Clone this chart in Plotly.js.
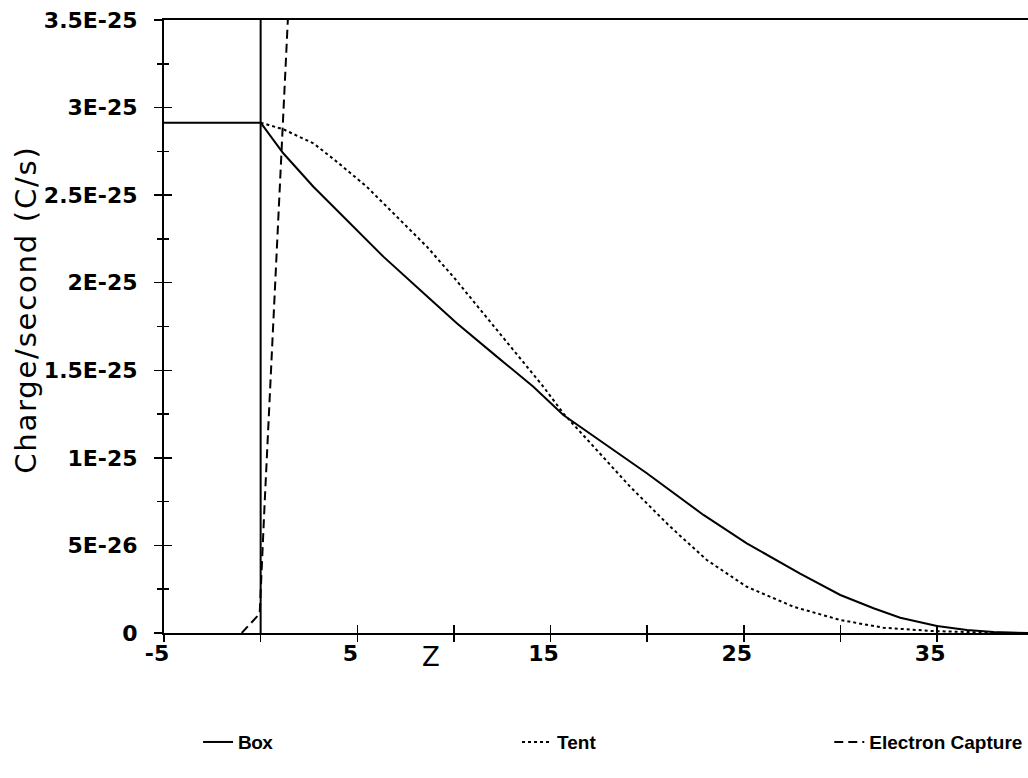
<!DOCTYPE html>
<html>
<head>
<meta charset="utf-8">
<script src="https://cdn.plot.ly/plotly-3.0.1.min.js"></script>
<style>
html,body{margin:0;padding:0;background:#fff;}
#chart{width:1028px;height:778px;}
.annotation[data-index="1"] text{letter-spacing:1.8px;}
.legendtext{letter-spacing:-0.5px;}
</style>
</head>
<body>
<div id="chart"></div>
<script>
// ---- data (y values in C/s) ----
const boxX = [-5, 0, 0, 0, null, 0, 1.17, 2.73, 4.63, 6.35, 8.25, 10.15, 12.22, 14.11, 15.66, 17.73, 19.98, 22.91, 25.15, 27.91, 29.99, 31.71, 33.09, 34.99, 36.54, 37.92, 39.7];
const boxY = [2.914e-25, 2.914e-25, 0, 3.6e-25, null, 2.914e-25, 2.739e-25, 2.548e-25, 2.339e-25, 2.149e-25, 1.958e-25, 1.768e-25, 1.578e-25, 1.406e-25, 1.245e-25, 1.083e-25, 0.912e-25, 0.674e-25, 0.512e-25, 0.339e-25, 0.217e-25, 0.141e-25, 0.087e-25, 0.040e-25, 0.017e-25, 0.006e-25, 0];

const tentX = [0, 1.17, 2.73, 3.94, 5.49, 7.04, 8.60, 9.97, 11.52, 13.25, 14.63, 15.66, 17.22, 19.12, 21.19, 23.08, 25.15, 27.57, 29.99, 32.22, 34.81, 36.54, 38.5, 39.7];
const tentY = [2.914e-25, 2.876e-25, 2.796e-25, 2.691e-25, 2.548e-25, 2.377e-25, 2.206e-25, 2.034e-25, 1.825e-25, 1.597e-25, 1.406e-25, 1.254e-25, 1.064e-25, 0.835e-25, 0.607e-25, 0.417e-25, 0.264e-25, 0.150e-25, 0.074e-25, 0.030e-25, 0.011e-25, 0.004e-25, 0, 0];

const ecX = [-0.98, -0.05, 0.2, 0.45, 0.7, 0.95, 1.2, 1.45];
const ecY = [0, 0.11e-25, 0.725e-25, 1.299e-25, 1.873e-25, 2.461e-25, 3.032e-25, 3.6e-25];

const seriesNames = ['Box', 'Tent', 'Electron Capture'];

const xTickVals = [-5, 0, 5, 10, 15, 20, 25, 30, 35];
const xTickText = ['-5', '', '5', '', '15', '', '25', '', '35'];
const yTickVals = [0, 0.5e-25, 1e-25, 1.5e-25, 2e-25, 2.5e-25, 3e-25, 3.5e-25];
const yTickText = ['0', '5E-26', '1E-25', '1.5E-25', '2E-25', '2.5E-25', '3E-25', '3.5E-25'];
const yMinorVals = [0.25e-25, 0.75e-25, 1.25e-25, 1.75e-25, 2.25e-25, 2.75e-25, 3.25e-25];

const xTitle = 'Z';
const yTitle = 'Charge/second (C/s)';

// ---- traces ----
const traces = [
  {x: boxX, y: boxY, name: seriesNames[0], type: 'scatter', mode: 'lines', legend: 'legend',
   line: {color: '#000', width: 2, dash: 'solid'}, connectgaps: false},
  {x: tentX, y: tentY, name: seriesNames[1], type: 'scatter', mode: 'lines', legend: 'legend2',
   line: {color: '#000', width: 2, dash: 'dot'}},
  {x: ecX, y: ecY, name: seriesNames[2], type: 'scatter', mode: 'lines', legend: 'legend3',
   line: {color: '#000', width: 2, dash: '9px,5px'}},
  {x: [-5], y: [0], xaxis: 'x2', yaxis: 'y2', mode: 'markers', marker: {opacity: 0},
   showlegend: false, hoverinfo: 'skip'}
];

const tickFont = {family: 'DejaVu Sans, Arial, sans-serif', size: 22, color: '#000', weight: 'bold'};
const legFont = {family: 'Liberation Sans, Arial, sans-serif', size: 19, color: '#000', weight: 'bold'};
function leg(x) {
  return {orientation: 'h', x: x, xanchor: 'left', y: -0.147, yanchor: 'top',
          font: legFont, itemwidth: 30, bgcolor: 'rgba(0,0,0,0)'};
}

const layout = {
  width: 1028, height: 778,
  margin: {l: 164, r: 0, t: 20, b: 145, autoexpand: false},
  paper_bgcolor: '#fff', plot_bgcolor: '#fff',
  showlegend: true,
  legend: leg(0.0394),
  legend2: leg(0.4086),
  legend3: leg(0.770),
  xaxis: {
    range: [-5, 39.7], showgrid: false, zeroline: false,
    showline: true, linecolor: '#000', linewidth: 2, mirror: true,
    tickmode: 'array', tickvals: xTickVals, ticktext: xTickText,
    ticks: 'inside', ticklen: 8, tickwidth: 1.5, tickcolor: '#000',
    ticklabelshift: -7,
    tickfont: tickFont
  },
  yaxis: {
    range: [0, 3.5e-25], showgrid: false, zeroline: false,
    showline: true, linecolor: '#000', linewidth: 2,
    tickmode: 'array', tickvals: yTickVals, ticktext: yTickText,
    ticks: 'outside', ticklen: 8, tickwidth: 1.5, tickcolor: '#000',
    ticklabelstandoff: 12,
    minor: {tickmode: 'array', tickvals: yMinorVals, ticks: 'outside', ticklen: 5, tickwidth: 1.5, tickcolor: '#000'},
    tickfont: tickFont
  },
  xaxis2: {
    overlaying: 'x', side: 'bottom', range: [-5, 39.7], showgrid: false, zeroline: false, showline: false,
    tickmode: 'array', tickvals: xTickVals, showticklabels: false,
    ticks: 'outside', ticklen: 8, tickwidth: 1.5, tickcolor: '#000'
  },
  yaxis2: {
    overlaying: 'y', range: [0, 3.5e-25], showgrid: false, zeroline: false, showline: false,
    tickmode: 'array', tickvals: yTickVals, showticklabels: false,
    ticks: 'inside', ticklen: 8, tickwidth: 1.5, tickcolor: '#000',
    minor: {tickmode: 'array', tickvals: yMinorVals, ticks: 'inside', ticklen: 5, tickwidth: 1.5, tickcolor: '#000'}
  },
  annotations: [
    {text: xTitle, xref: 'paper', yref: 'paper', x: 0.309, y: -0.039, xanchor: 'center', yanchor: 'middle',
     showarrow: false, font: {family: 'DejaVu Sans, Arial, sans-serif', size: 26, color: '#000'}},
    {text: yTitle, xref: 'paper', yref: 'paper', x: -0.16, y: 0.527, xanchor: 'center', yanchor: 'middle',
     textangle: -90, showarrow: false, font: {family: 'DejaVu Sans, Arial, sans-serif', size: 29, color: '#000'}}
  ]
};

Plotly.newPlot('chart', traces, layout, {displayModeBar: false, staticPlot: true});
</script>
</body>
</html>
